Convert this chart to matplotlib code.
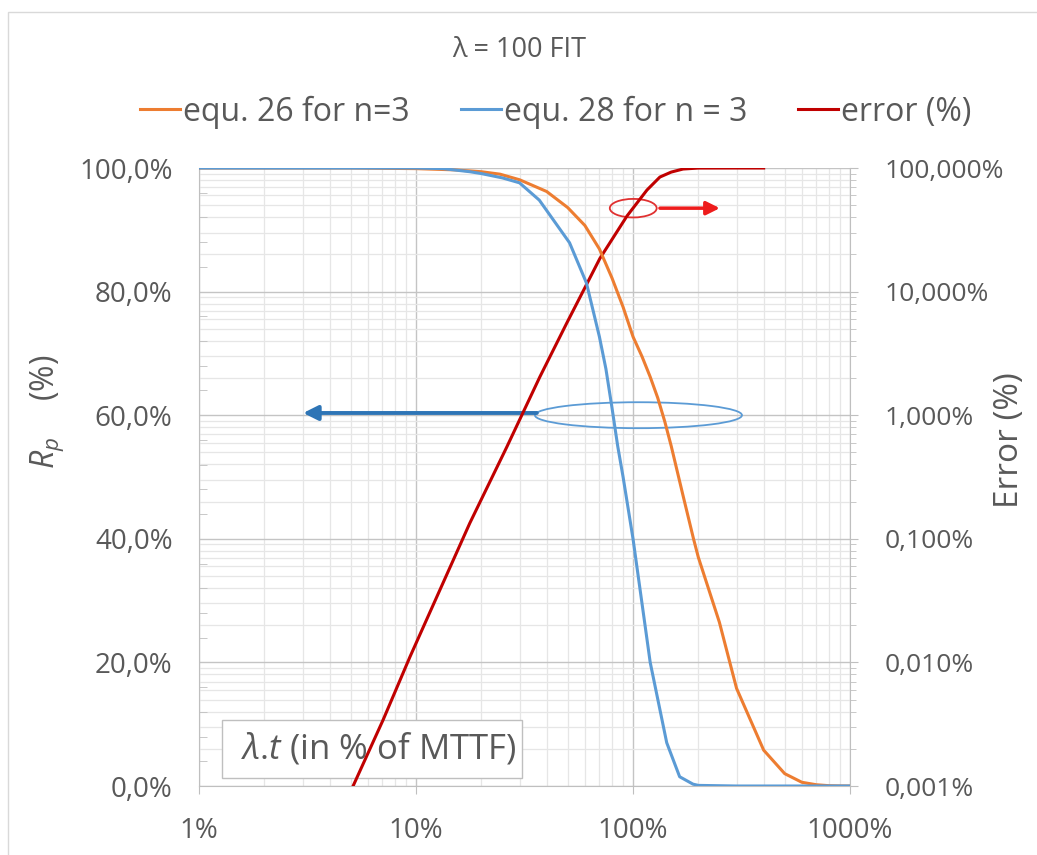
import numpy as np
import matplotlib
matplotlib.use('Agg')
import matplotlib.pyplot as plt
from matplotlib.ticker import FixedLocator, LogLocator, MultipleLocator, FuncFormatter, NullFormatter
from matplotlib.patches import Ellipse, Rectangle

plt.rcParams['font.family'] = ['Open Sans', 'DejaVu Sans']
plt.rcParams['mathtext.fontset'] = 'custom'
plt.rcParams['mathtext.it'] = 'Open Sans:italic'
plt.rcParams['mathtext.rm'] = 'Open Sans'

TXT = '#595959'
GRID_MAJ = '#c4c4c4'
GRID_MIN = '#e6e6e6'

# lambda.t in % of MTTF, and reliability Rp (%)
eq26_x = [1, 5, 10, 15, 20, 24.4, 30, 40, 50, 60, 70, 80, 90, 100, 110, 120, 130, 140,
          150, 170, 190, 200, 250, 300, 400, 500, 600, 700, 800, 900, 1000]
eq26_y = [100, 100, 99.9, 99.7, 99.4, 99.0, 98.1, 96.2, 93.6, 90.7, 86.9, 82.2, 77.5,
          72.7, 69.5, 66.2, 62.8, 59.0, 55.0, 47.0, 40.0, 37.0, 26.5, 15.8, 5.8, 2.0,
          0.6, 0.2, 0.05, 0.01, 0.0]

eq28_x = [1, 5, 10, 13.3, 17.7, 20, 25, 30, 37, 51, 61, 70, 75, 80, 85, 90, 100, 120,
          143, 164, 189, 200, 300, 500, 1000]
eq28_y = [100, 100, 100, 99.9, 99.4, 99.1, 98.4, 97.6, 94.8, 87.9, 81.4, 72.7, 67.5,
          61.2, 55.0, 50.0, 40.0, 20.0, 7.0, 1.5, 0.3, 0.1, 0.0, 0.0, 0.0]

# error (%) on the right log axis
err_x = [5.13, 7.05, 9.38, 10.8, 17.7, 26.2, 37.2, 49.6, 70.3, 93.9, 116, 133, 150,
         170, 200, 300, 400]
err_y = [0.001, 0.00342, 0.0111, 0.0193, 0.134, 0.553, 2.04, 5.6, 18.5, 41.0, 66.4,
         84.5, 92.7, 98.1, 99.9, 100, 100]

x_ticks = [1, 10, 100, 1000]
left_ticks = [0, 20, 40, 60, 80, 100]
right_ticks = [0.001, 0.01, 0.1, 1, 10, 100]

fig = plt.figure(figsize=(10.37, 8.55), dpi=100)
fig.add_artist(Rectangle((8 / 1037, -0.1), 1.2, 843 / 855 + 0.1, transform=fig.transFigure,
                         fill=False, ec='#d9d9d9', lw=1))

# primary axes: log error axis on the right, carries the grid
ax = fig.add_axes([0.1919, 0.0807, 0.6278, 0.7228])
ax.set_xscale('log')
ax.set_yscale('log')
ax.set_xlim(1, 1000)
ax.set_ylim(0.001, 100)
ax.set_axisbelow(True)
ax.grid(True, which='major', color=GRID_MAJ, lw=1)
ax.grid(True, which='minor', color=GRID_MIN, lw=0.9)

l3, = ax.plot(err_x, err_y, color='#c00000', lw=2.2, zorder=4, label='error (%)')

# text box for the x axis meaning
ax.add_patch(Rectangle((0.0353, 0.0129), 0.4608, 0.0939, transform=ax.transAxes,
                       fc='white', ec='#bfbfbf', lw=1, zorder=2))
ax.text(0.2765, 0.060, r'$\lambda$.$t$ (in % of MTTF)', transform=ax.transAxes,
        ha='center', va='center', fontsize=25, color=TXT, zorder=3)

# ellipses and arrows pointing to the axes
ax.add_patch(Ellipse((0.675, 0.600), 0.318, 0.042, transform=ax.transAxes,
                     fill=False, ec='#5b9bd5', lw=1.3, zorder=3))
ax.add_patch(Ellipse((0.667, 0.935), 0.072, 0.030, transform=ax.transAxes,
                     fill=False, ec='#e03030', lw=1.3, zorder=3))
ax.annotate('', xy=(0.160, 0.6036), xytext=(0.519, 0.6036), xycoords='axes fraction',
            arrowprops=dict(arrowstyle='-|>', color='#2e75b6', lw=2.8, mutation_scale=22,
                            shrinkA=0, shrinkB=0), zorder=3)
ax.annotate('', xy=(0.800, 0.935), xytext=(0.708, 0.935), xycoords='axes fraction',
            arrowprops=dict(arrowstyle='-|>', color='#ee1c1c', lw=2.5, mutation_scale=20,
                            shrinkA=0, shrinkB=0), zorder=3)

# twin axes: linear Rp axis on the left
axr = ax.twinx()
axr.set_ylim(0, 100)
axr.yaxis.set_ticks_position('left')
axr.yaxis.set_label_position('left')
axr.yaxis.set_major_locator(FixedLocator(left_ticks))
axr.yaxis.set_minor_locator(MultipleLocator(4))
axr.yaxis.set_major_formatter(FuncFormatter(lambda v, p: f"{v:.1f}%".replace('.', ',')))
axr.tick_params(axis='y', which='major', length=0, labelsize=20, labelcolor=TXT, pad=19)
axr.tick_params(axis='y', which='minor', direction='in', length=6, color='#bfbfbf')
for s in axr.spines.values():
    s.set_visible(False)
axr.set_ylabel(r'$R_p\quad$ (%)', fontsize=23, color=TXT)
axr.yaxis.set_label_coords(-0.205, 0.605)

l1, = axr.plot(eq26_x, eq26_y, color='#ed7d31', lw=2.2, label='equ. 26 for n=3')
l2, = axr.plot(eq28_x, eq28_y, color='#5b9bd5', lw=2.2, label='equ. 28 for n = 3')

# twinx moves the primary ticks to the left: put them back on the right
ax.xaxis.set_major_locator(FixedLocator(x_ticks))
ax.xaxis.set_minor_locator(LogLocator(base=10, subs=np.arange(2, 10)))
ax.xaxis.set_major_formatter(FuncFormatter(lambda v, p: f"{v:g}%"))
ax.xaxis.set_minor_formatter(NullFormatter())
ax.yaxis.set_major_locator(FixedLocator(right_ticks))
ax.yaxis.set_minor_locator(LogLocator(base=10, subs=np.arange(2, 10)))
ax.yaxis.set_major_formatter(FuncFormatter(lambda v, p: f"{v:.3f}%".replace('.', ',')))
ax.yaxis.set_minor_formatter(NullFormatter())
ax.yaxis.set_ticks_position('right')
ax.yaxis.set_label_position('right')
ax.tick_params(axis='x', which='major', length=6, color='#bfbfbf', labelsize=20,
               labelcolor=TXT, pad=16)
ax.tick_params(axis='x', which='minor', length=0)
ax.tick_params(axis='y', which='major', length=6, color='#bfbfbf', labelsize=19,
               labelcolor=TXT, pad=19, left=False, labelleft=False, right=True,
               labelright=True)
ax.tick_params(axis='y', which='minor', length=4, color='#bfbfbf', left=False, right=True)
for s in ['left', 'right', 'bottom']:
    ax.spines[s].set_color('#bfbfbf')
ax.spines['top'].set_visible(False)
ax.set_ylabel('Error (%)', fontsize=24, color=TXT)
ax.yaxis.set_label_coords(1.220, 0.56)

fig.text(0.501, 0.9415, 'λ = 100 FIT', ha='center', va='center', fontsize=19.5, color=TXT)

fig.legend(handles=[l1, l2, l3], loc='center', bbox_to_anchor=(0.536, 0.869), ncol=3,
           frameon=False, fontsize=23, handlelength=1.25, handletextpad=0.1,
           columnspacing=1.6, labelcolor=TXT)

fig.savefig('out.png', dpi=100)
